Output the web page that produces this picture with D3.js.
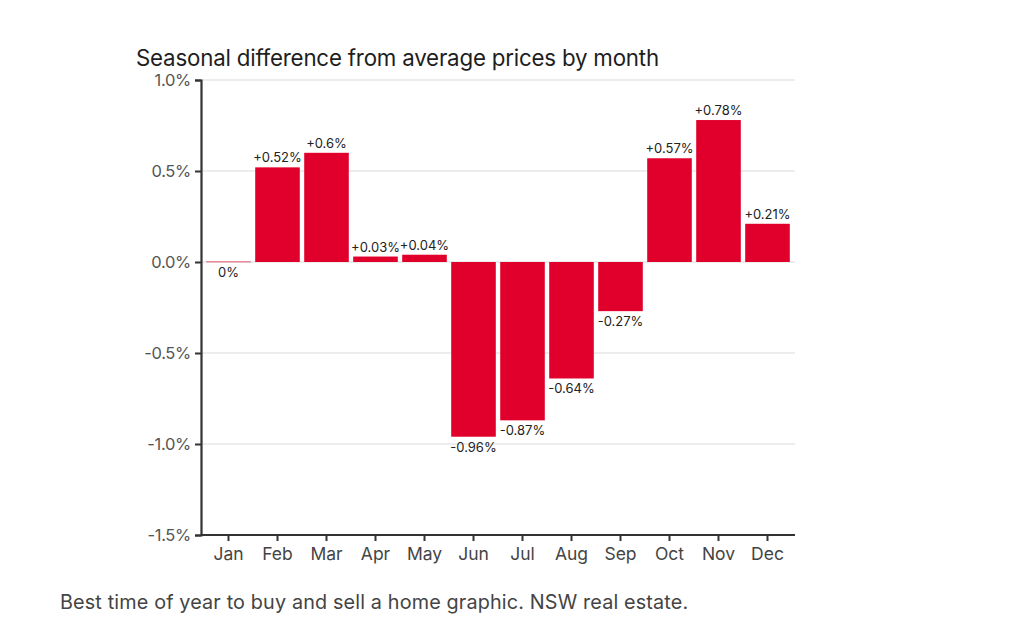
<!DOCTYPE html>
<html><head><meta charset="utf-8">
<script src="https://cdn.jsdelivr.net/npm/d3@7"></script>
<style>
html,body{margin:0;padding:0;background:#fff;}
svg{display:block;font-family:Inter,"Noto Sans",sans-serif;}
</style></head>
<body><svg id="c" width="1024" height="618"></svg>
<script>
const months = ["Jan","Feb","Mar","Apr","May","Jun","Jul","Aug","Sep","Oct","Nov","Dec"];
const values = [0, 0.52, 0.6, 0.03, 0.04, -0.96, -0.87, -0.64, -0.27, 0.57, 0.78, 0.21];
const valueLabels = ["0%","+0.52%","+0.6%","+0.03%","+0.04%","-0.96%","-0.87%","-0.64%","-0.27%","+0.57%","+0.78%","+0.21%"];
const yTicks = [1.0, 0.5, 0.0, -0.5, -1.0, -1.5];
const yTickLabels = ["1.0%","0.5%","0.0%","-0.5%","-1.0%","-1.5%"];
const titleText = "Seasonal difference from average prices by month";
const captionText = "Best time of year to buy and sell a home graphic. NSW real estate.";

const svg = d3.select("#c");
const mLeft = 201, mRight = 795, mTop = 80, mBottom = 535;
const x = d3.scaleBand().domain(months).range([204, 792]).paddingInner(0.09).paddingOuter(0.045);
const y = d3.scaleLinear().domain([-1.5, 1.0]).range([mBottom, mTop]);

// gridlines
svg.append("g").selectAll("line").data(yTicks.filter(d => d > -1.5)).join("line")
  .attr("x1", mLeft).attr("x2", mRight)
  .attr("y1", d => y(d)).attr("y2", d => y(d))
  .attr("stroke", "#dcdcdc").attr("stroke-width", 1.2);

// bars
const color = "#e1002b";
svg.append("g").selectAll("rect").data(values).join("rect")
  .attr("x", (d, i) => x(months[i]))
  .attr("width", x.bandwidth())
  .attr("y", d => d === 0 ? y(0) - 1 : y(Math.max(0, d)))
  .attr("height", d => d === 0 ? 1.5 : Math.abs(y(d) - y(0)))
  .attr("fill", d => d === 0 ? "#e58a98" : color);

// value labels
svg.append("g").selectAll("text").data(values).join("text")
  .attr("x", (d, i) => x(months[i]) + x.bandwidth() / 2)
  .attr("y", d => d > 0 ? y(d) - 5 : y(d) + 15)
  .attr("text-anchor", "middle")
  .attr("font-size", 13)
  .attr("fill", "#222")
  .text((d, i) => valueLabels[i]);

// y axis
const yAxis = d3.axisLeft(y).tickValues(yTicks).tickFormat((d, i) => yTickLabels[i]).tickSize(6).tickPadding(4);
const gy = svg.append("g").attr("transform", `translate(${mLeft},0)`).call(yAxis);
gy.select(".domain").attr("stroke", "#333").attr("stroke-width", 2.2);
gy.selectAll(".tick line").attr("stroke", "#333").attr("stroke-width", 2);
gy.selectAll(".tick text").attr("font-size", 16.5).attr("fill", "#555").attr("font-family", "Inter,sans-serif").attr("letter-spacing", -0.3);

// x axis
const xAxis = d3.axisBottom(x).tickSize(6).tickPadding(7);
const gx = svg.append("g").attr("transform", `translate(0,${mBottom})`).call(xAxis);
gx.select(".domain").attr("d", `M${mLeft},0H${mRight}`).attr("stroke", "#333").attr("stroke-width", 2.2);
gx.selectAll(".tick line").attr("stroke", "#333").attr("stroke-width", 2);
gx.selectAll(".tick text").attr("font-size", 17.5).attr("fill", "#444").attr("font-family", "Inter,sans-serif");

// title
svg.append("text").attr("x", 136).attr("y", 66).attr("font-size", 22.3).attr("fill", "#1e1e1e")
  .attr("letter-spacing", -0.2).text(titleText);

// caption
svg.append("text").attr("x", 60).attr("y", 609).attr("font-size", 19.8).attr("fill", "#444")
  .attr("letter-spacing", 0.15).text(captionText);
</script></body></html>
